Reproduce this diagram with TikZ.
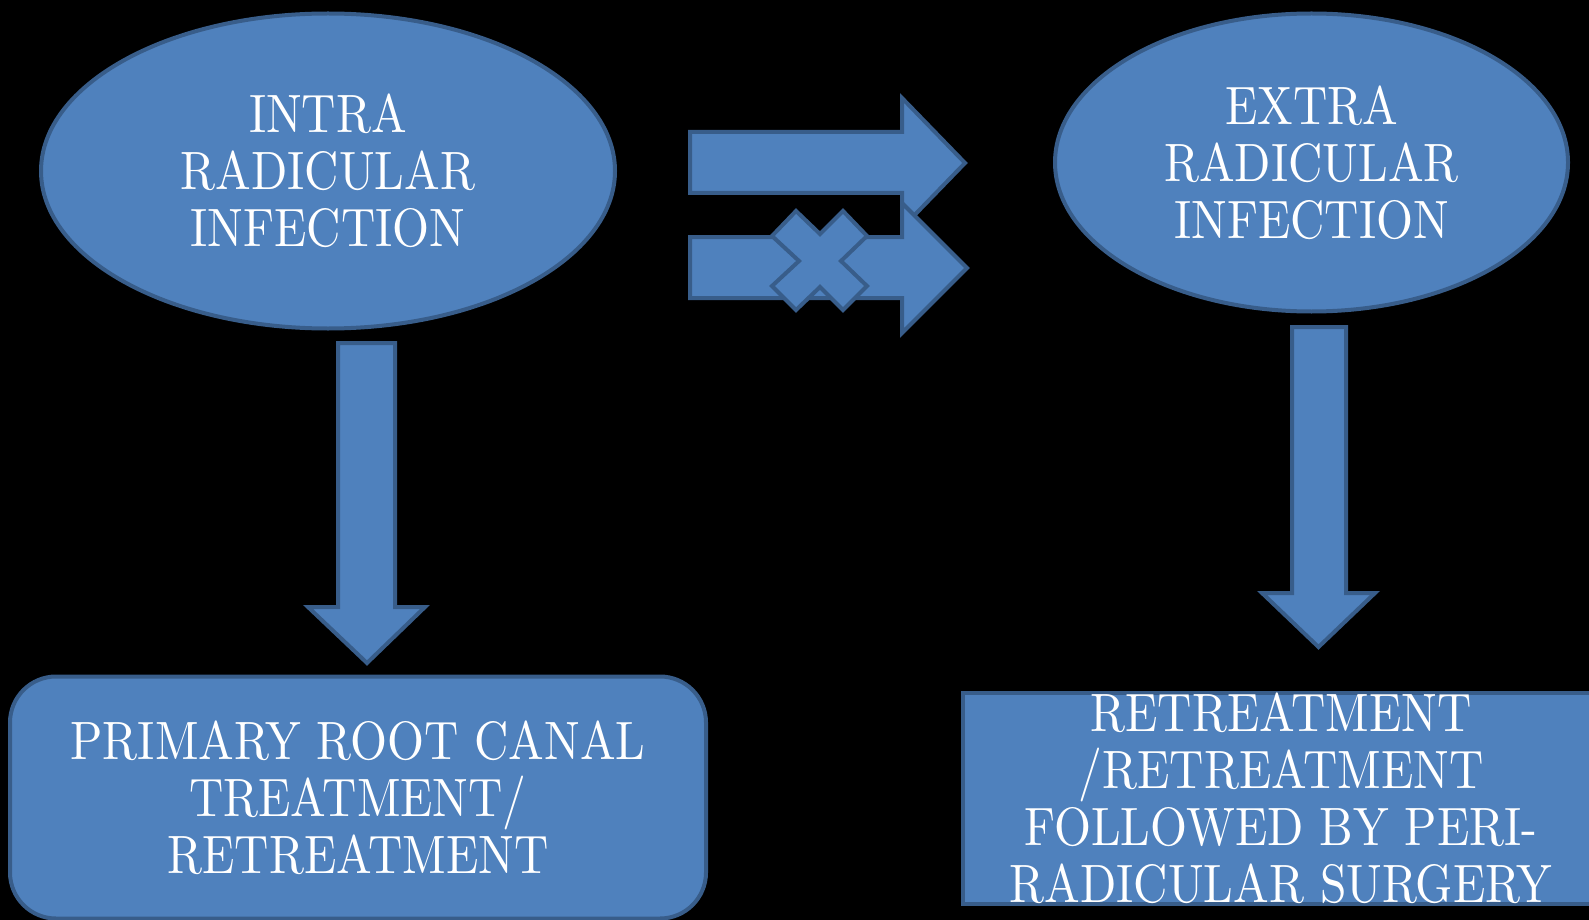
\documentclass[tikz,border=0pt]{standalone}
\usepackage{fontspec}
\setmainfont{lmroman10-regular.otf}[FakeStretch=0.88]
\usetikzlibrary{shapes.geometric}
\definecolor{fillblue}{HTML}{4F81BD}
\definecolor{edgeblue}{HTML}{385D8A}
\begin{document}
\begin{tikzpicture}[x=1pt,y=-1pt,
  shapestyle/.style={fill=fillblue, draw=edgeblue, line width=4pt, line join=miter},
  txt/.style={text=white, font=\fontsize{54}{57}\selectfont, align=center, inner sep=0pt}]
\fill[black] (0,0) rectangle (1589,920);
\useasboundingbox (0,0) rectangle (1589,920);

% ellipses
\node[ellipse, shapestyle, txt, minimum width=574pt, minimum height=315pt] (intra) at (328,171) {INTRA\\RADICULAR\\INFECTION};
\node[ellipse, shapestyle, txt, minimum width=513pt, minimum height=298pt] (extra) at (1311.5,162.5) {EXTRA\\RADICULAR\\INFECTION};

% boxes
\node[rectangle, rounded corners=46pt, shapestyle, txt, minimum width=696pt, minimum height=242pt] (primary) at (358,797.5) {PRIMARY ROOT CANAL\\TREATMENT/\\RETREATMENT};
\node[rectangle, shapestyle, txt, minimum width=636pt, minimum height=211pt] (retreat) at (1281,798.5) {RETREATMENT\\/RETREATMENT\\FOLLOWED BY PERI-\\RADICULAR SURGERY};

% right arrows
\draw[shapestyle] (690,132) -- (902,132) -- (902,98) -- (965,163) -- (902,228) -- (902,193) -- (690,193) -- cycle;
\draw[shapestyle] (690,237) -- (902,237) -- (902,203) -- (967,268) -- (902,333) -- (902,298) -- (690,298) -- cycle;
% cross
\draw[shapestyle] (820,234) -- (843,211) -- (867,236) -- (841,261) -- (867,286) -- (843,310) -- (820,287) -- (796,310) -- (772,286) -- (799,261) -- (772,236) -- (796,211) -- cycle;

% down arrows
\draw[shapestyle] (338,343) -- (395,343) -- (395,607) -- (425,607) -- (367,663) -- (308,607) -- (338,607) -- cycle;
\draw[shapestyle] (1292,327) -- (1346,327) -- (1346,593) -- (1375,593) -- (1318.5,647) -- (1262,593) -- (1292,593) -- cycle;
\end{tikzpicture}
\end{document}
